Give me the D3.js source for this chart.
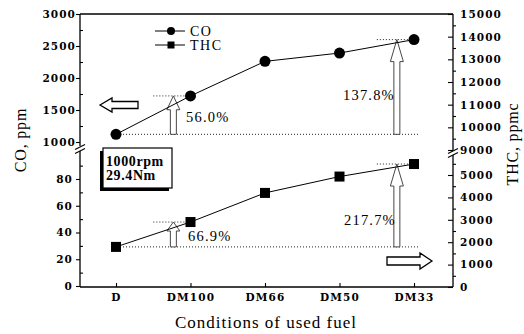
<!DOCTYPE html>
<html><head><meta charset="utf-8">
<script src="https://cdn.jsdelivr.net/npm/d3@7"></script>
<style>body{margin:0;background:#fff}svg{display:block}</style>
</head><body>
<script>
// ---- data ----
const categories = ["D", "DM100", "DM66", "DM50", "DM33"];
const coValues = [1120, 1720, 2260, 2390, 2600];
const thcValues = [1790, 2900, 4200, 4930, 5490];
const leftUpperTicks = [1000, 1500, 2000, 2500, 3000];
const leftUpperMinor = [1250, 1750, 2250, 2750];
const leftLowerTicks = [0, 20, 40, 60, 80];
const leftLowerMinor = [10, 30, 50, 70, 90];
const rightUpperTicks = [9000, 10000, 11000, 12000, 13000, 14000, 15000];
const rightUpperMinor = [9500, 10500, 11500, 12500, 13500, 14500];
const rightLowerTicks = [0, 1000, 2000, 3000, 4000, 5000];
const rightLowerMinor = [500, 1500, 2500, 3500, 4500, 5500];
const coIncrease = [{cat: "DM100", label: "56.0%"}, {cat: "DM33", label: "137.8%"}];
const thcIncrease = [{cat: "DM100", label: "66.9%"}, {cat: "DM33", label: "217.7%"}];
const seriesNames = ["CO", "THC"];
const conditionLines = ["1000rpm", "29.4Nm"];

const W = 524, H = 334;
const svg = d3.select("body").append("svg").attr("width", W).attr("height", H);
const L = 80, R = 453, T = 14, B = 287;

const x = d3.scalePoint().domain(categories).range([116, 414]);
const yCO = d3.scaleLinear().domain([1000, 3000]).range([142, 14]);
const yLL = d3.scaleLinear().domain([0, 80]).range([286, 179]);
const yRU = d3.scaleLinear().domain([9000, 15000]).range([150, 14]);
const yTHC = d3.scaleLinear().domain([0, 5000]).range([287, 175]);

const tickFont = "DejaVu Serif, serif";
function styleAxis(g) {
  g.select(".domain").remove();
  g.selectAll("line").attr("stroke", "#000").attr("stroke-width", 1.1);
  g.selectAll("text").attr("font-family", tickFont).attr("font-weight", "bold")
    .attr("font-size", 10.5).attr("letter-spacing", 1.1).attr("fill", "#000");
}
// left axis
svg.append("g").attr("transform", `translate(${L},0)`)
  .call(d3.axisLeft(yCO).tickValues(leftUpperTicks).tickSize(4).tickPadding(0).tickFormat(d3.format("d"))).call(styleAxis);
svg.append("g").attr("transform", `translate(${L},0)`)
  .call(d3.axisLeft(yCO).tickValues(leftUpperMinor).tickSize(-3).tickFormat("")).call(styleAxis);
svg.append("g").attr("transform", `translate(${L},0)`)
  .call(d3.axisLeft(yLL).tickValues(leftLowerTicks).tickSize(4).tickPadding(3).tickFormat(d3.format("d"))).call(styleAxis);
svg.append("g").attr("transform", `translate(${L},0)`)
  .call(d3.axisLeft(yLL).tickValues(leftLowerMinor).tickSize(-3).tickFormat("")).call(styleAxis);
// right axis
svg.append("g").attr("transform", `translate(${R},0)`)
  .call(d3.axisRight(yRU).tickValues(rightUpperTicks).tickSize(-5).tickPadding(7).tickFormat(d3.format("d"))).call(styleAxis);
svg.append("g").attr("transform", `translate(${R},0)`)
  .call(d3.axisRight(yRU).tickValues(rightUpperMinor).tickSize(3).tickFormat("")).call(styleAxis);
svg.append("g").attr("transform", `translate(${R},0)`)
  .call(d3.axisRight(yTHC).tickValues(rightLowerTicks).tickSize(-5).tickPadding(7).tickFormat(d3.format("d"))).call(styleAxis);
svg.append("g").attr("transform", `translate(${R},0)`)
  .call(d3.axisRight(yTHC).tickValues(rightLowerMinor).tickSize(3).tickFormat("")).call(styleAxis);
// bottom axis
const xg = svg.append("g").attr("transform", `translate(0,${B})`)
  .call(d3.axisBottom(x).tickSize(-4).tickPadding(7)).call(styleAxis);
xg.selectAll("text").attr("font-size", 10.5).attr("letter-spacing", 1.2);

// frame lines with breaks
const frame = svg.append("g").attr("stroke", "#000").attr("fill", "none");
frame.append("line").attr("x1", L).attr("x2", R).attr("y1", T).attr("y2", T).attr("stroke-width", 1.5);
frame.append("line").attr("x1", L).attr("x2", R).attr("y1", B).attr("y2", B).attr("stroke-width", 1.5);
frame.append("line").attr("x1", L).attr("x2", L).attr("y1", T).attr("y2", 146).attr("stroke-width", 1.3);
frame.append("line").attr("x1", L).attr("x2", L).attr("y1", 151).attr("y2", B).attr("stroke-width", 1.3);
frame.append("line").attr("x1", R).attr("x2", R).attr("y1", T).attr("y2", 150).attr("stroke-width", 1.3);
frame.append("line").attr("x1", R).attr("x2", R).attr("y1", 155).attr("y2", B).attr("stroke-width", 1.3);
[[L, 148.5], [R, 152.5]].forEach(([cx, cy]) => {
  frame.append("line").attr("x1", cx - 5).attr("y1", cy + 1).attr("x2", cx + 5).attr("y2", cy - 4).attr("stroke-width", 1.2);
  frame.append("line").attr("x1", cx - 5).attr("y1", cy + 5).attr("x2", cx + 5).attr("y2", cy).attr("stroke-width", 1.2);
});

// reference dotted lines + up arrows
const dot = {stroke: "#222", "stroke-width": 1, "stroke-dasharray": "1,2"};
function dotted(x1, x2, y) {
  const l = svg.append("line").attr("x1", x1).attr("x2", x2).attr("y1", y).attr("y2", y);
  Object.entries(dot).forEach(([k, v]) => l.attr(k, v));
}
function upArrow(cx, yBase, yTop) {
  const hl = Math.min(22, (yBase - yTop) * 0.36), bw = 3, hw = 6.5;
  const pts = [[cx - bw, yBase], [cx - bw, yTop + hl], [cx - hw, yTop + hl], [cx, yTop],
    [cx + hw, yTop + hl], [cx + bw, yTop + hl], [cx + bw, yBase]];
  svg.append("polygon").attr("points", pts.map(p => p.join(",")).join(" "))
    .attr("fill", "#fff").attr("stroke", "#333").attr("stroke-width", 0.9);
}
const step = x.step();
function increases(list, vals, yS, labelPos) {
  const base = yS(vals[0]);
  dotted(x(categories[0]) + 4, 420, base);
  list.forEach((d, i) => {
    const v = vals[categories.indexOf(d.cat)];
    const yt = yS(v), cx = x(d.cat) - 0.23 * step;
    dotted(cx - 20, x(d.cat) - 4, yt);
    upArrow(cx, base, yt);
    svg.append("text").attr("x", labelPos[i][0]).attr("y", labelPos[i][1]).text(d.label)
      .attr("font-family", "Liberation Serif, serif").attr("font-size", 14.5)
      .attr("letter-spacing", 1.2).attr("fill", "#000");
  });
}
increases(coIncrease, coValues, yCO, [[186, 122], [343, 100]]);
increases(thcIncrease, thcValues, yTHC, [[188, 241], [344, 225]]);

// series lines and markers
const lineCO = d3.line().x((d, i) => x(categories[i])).y(d => yCO(d));
const lineTHC = d3.line().x((d, i) => x(categories[i])).y(d => yTHC(d));
svg.append("path").attr("d", lineCO(coValues)).attr("fill", "none").attr("stroke", "#000").attr("stroke-width", 1);
svg.append("path").attr("d", lineTHC(thcValues)).attr("fill", "none").attr("stroke", "#000").attr("stroke-width", 1);
svg.selectAll(".co").data(coValues).enter().append("circle")
  .attr("cx", (d, i) => x(categories[i])).attr("cy", d => yCO(d)).attr("r", 5.5).attr("fill", "#000");
svg.selectAll(".thc").data(thcValues).enter().append("rect")
  .attr("x", (d, i) => x(categories[i]) - 5).attr("y", d => yTHC(d) - 5).attr("width", 10).attr("height", 10).attr("fill", "#000");

// big hollow arrows
function hArrow(tipX, tailX, cy, hl, hh, bh) {
  const s = Math.sign(tailX - tipX), hb = tipX + s * hl;
  const pts = [[tipX, cy], [hb, cy - hh], [hb, cy - bh], [tailX, cy - bh], [tailX, cy + bh], [hb, cy + bh], [hb, cy + hh]];
  svg.append("polygon").attr("points", pts.map(p => p.join(",")).join(" "))
    .attr("fill", "#fff").attr("stroke", "#000").attr("stroke-width", 1.3);
}
hArrow(100, 138, 105, 12, 7, 3.5);
hArrow(432, 387, 261, 12, 8, 4);

// legend
const leg = svg.append("g");
seriesNames.forEach((n, i) => {
  const ly = 31 + i * 14;
  leg.append("line").attr("x1", 155).attr("x2", 185).attr("y1", ly).attr("y2", ly).attr("stroke", "#000").attr("stroke-width", 1);
  if (i === 0) leg.append("circle").attr("cx", 171).attr("cy", ly).attr("r", 4).attr("fill", "#000");
  else leg.append("rect").attr("x", 167.5).attr("y", ly - 3.5).attr("width", 7).attr("height", 7).attr("fill", "#000");
  leg.append("text").attr("x", 190).attr("y", ly + 4.5).text(n)
    .attr("font-family", "Liberation Serif, serif").attr("font-size", 14).attr("letter-spacing", 1.5).attr("fill", "#000");
});

// condition box
svg.append("rect").attr("x", 100).attr("y", 151).attr("width", 69).attr("height", 40).attr("fill", "#000");
svg.append("rect").attr("x", 103).attr("y", 148).attr("width", 69).attr("height", 40).attr("fill", "#fff").attr("stroke", "#000").attr("stroke-width", 1.2);
conditionLines.forEach((t, i) => {
  svg.append("text").attr("x", 106).attr("y", 166 + i * 14).text(t)
    .attr("font-family", "Liberation Serif, serif").attr("font-weight", "bold").attr("font-size", 14)
    .attr("letter-spacing", 0.6).attr("fill", "#000");
});

// axis titles
svg.append("text").attr("transform", "translate(26,140) rotate(-90)").attr("text-anchor", "middle").text("CO, ppm")
  .attr("font-family", "Liberation Serif, serif").attr("font-size", 16).attr("letter-spacing", 0.8).attr("fill", "#000");
svg.append("text").attr("transform", "translate(518,144) rotate(-90)").attr("text-anchor", "middle").text("THC, ppmc")
  .attr("font-family", "Liberation Serif, serif").attr("font-size", 16).attr("letter-spacing", 0.8).attr("fill", "#000");
svg.append("text").attr("x", 266).attr("y", 328).attr("text-anchor", "middle").text("Conditions of used fuel")
  .attr("font-family", "Liberation Serif, serif").attr("font-size", 17).attr("letter-spacing", 1).attr("fill", "#000");
</script>
</body></html>
